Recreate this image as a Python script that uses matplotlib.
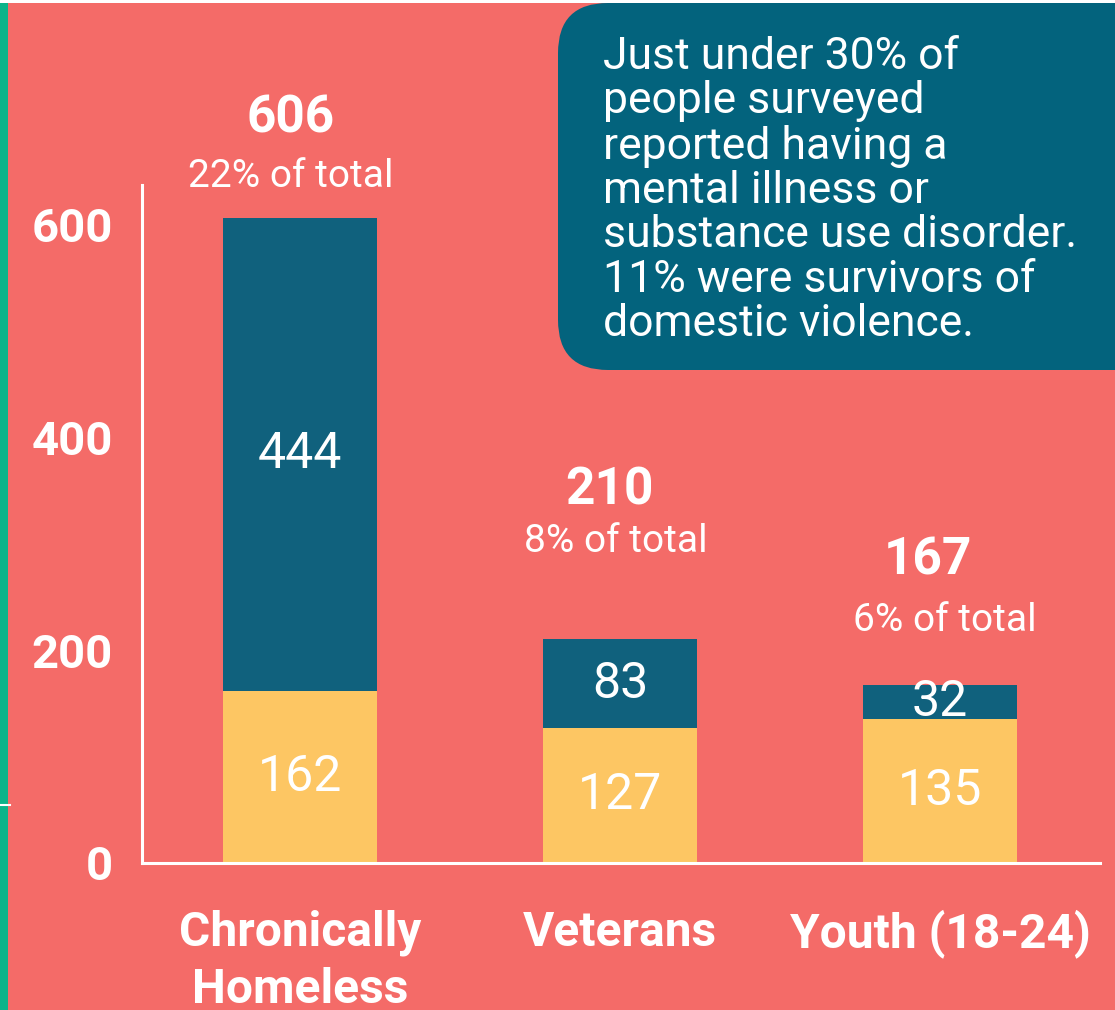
import matplotlib
matplotlib.use("Agg")
import matplotlib.pyplot as plt
from matplotlib.patches import FancyBboxPatch, Rectangle
from matplotlib.lines import Line2D

plt.rcParams['font.family'] = ['Roboto', 'DejaVu Sans']

categories = ["Chronically\nHomeless", "Veterans", "Youth (18-24)"]
lower_values = [162, 127, 135]
upper_values = [444, 83, 32]
totals = [606, 210, 167]
total_labels = ["606", "210", "167"]
pct_labels = ["22% of total", "8% of total", "6% of total"]
yticks = [0, 200, 400, 600]
callout = ("Just under 30% of\npeople surveyed\nreported having a\nmental illness or\n"
           "substance use disorder.\n11% were survivors of\ndomestic violence.")

BG = "#F46B68"
DARK = "#10617D"
YELLOW = "#FDC663"
BOX = "#03637D"
GREEN = "#0BB48A"

W, H = 1115, 1010
fig = plt.figure(figsize=(W / 100, H / 100), dpi=100, facecolor=BG)

# axes: x 142..1100 px, y 185..863 px
ax = fig.add_axes([142 / W, 1 - 863 / H, (1100 - 142) / W, (863 - 185) / H])
ax.set_facecolor(BG)
x = list(range(len(categories)))
ax.bar(x, lower_values, width=0.48, color=YELLOW, zorder=2)
ax.bar(x, upper_values, width=0.48, bottom=lower_values, color=DARK, zorder=2)
ax.set_xlim(-0.494, 2.5)
ax.set_ylim(0, 637)

for s in ["top", "right"]:
    ax.spines[s].set_visible(False)
for s in ["left", "bottom"]:
    ax.spines[s].set_color("white")
    ax.spines[s].set_linewidth(2.2)

ax.set_yticks(yticks)
ax.set_yticklabels([str(v) for v in yticks], fontsize=34, fontweight="bold", color="white")
ax.tick_params(axis="y", length=0, pad=21)
ax.set_xticks(x)
ax.set_xticklabels(categories, fontsize=34.5, fontweight="bold", color="white", linespacing=1.30)
ax.tick_params(axis="x", length=0, pad=33.5)

for i in x:
    ax.text(i, lower_values[i] / 2, str(lower_values[i]), ha="center", va="center",
            color="white", fontsize=36, zorder=3)
    ax.text(i, lower_values[i] + upper_values[i] / 2, str(upper_values[i]), ha="center",
            va="center", color="white", fontsize=36, zorder=3)

num_off = [(-10, 99), (-11, 149), (-12, 125)]
pct_off = [(-9, 41), (-4, 98), (5, 65)]
for i in x:
    ax.annotate(total_labels[i], (i, totals[i]),
                xytext=(num_off[i][0] * 0.72, num_off[i][1] * 0.72),
                textcoords="offset points", ha="center", va="center",
                color="white", fontsize=37, fontweight="bold", annotation_clip=False)
    ax.annotate(pct_labels[i], (i, totals[i]),
                xytext=(pct_off[i][0] * 0.72, pct_off[i][1] * 0.72),
                textcoords="offset points", ha="center", va="center",
                color="white", fontsize=28, annotation_clip=False)

# left green strip and top white line
fig.add_artist(Rectangle((0, 0), 8 / W, 1, transform=fig.transFigure, color=GREEN, lw=0))
fig.add_artist(Rectangle((0, 1 - 3 / H), 1, 3 / H, transform=fig.transFigure, color="white", lw=0))
fig.add_artist(Line2D([0, 10 / W], [1 - 805 / H, 1 - 805 / H], transform=fig.transFigure,
                      color="white", lw=1.5))

# callout box
r = 50
box = FancyBboxPatch(((558 + r) / 100, (1010 - 370 + r) / 100), 7.0, (367 - 2 * r) / 100,
                     boxstyle=f"round,pad={r / 100},rounding_size={r / 100}",
                     transform=fig.dpi_scale_trans, facecolor=BOX, edgecolor="none", zorder=5)
fig.add_artist(box)
fig.text(603 / W, 1 - 36 / H, callout, ha="left", va="top", color="white",
         fontsize=32, linespacing=1.07, zorder=6)

fig.savefig("out.png", dpi=100, facecolor=BG)
